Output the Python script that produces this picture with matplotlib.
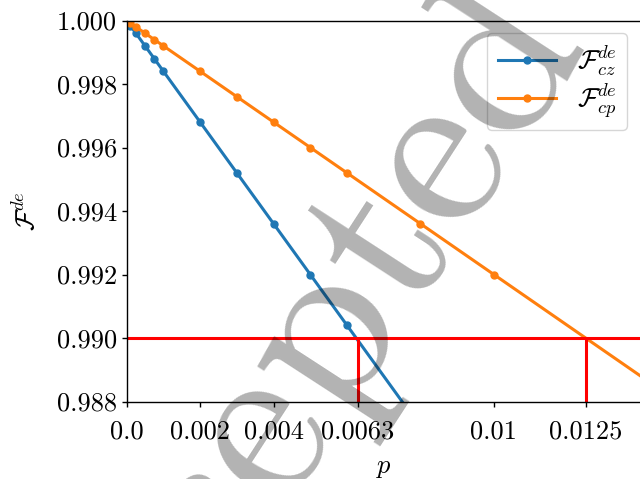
import matplotlib
matplotlib.use("Agg")
import matplotlib.pyplot as plt

plt.rcParams['font.family'] = 'serif'
plt.rcParams['font.serif'] = ['cmr10']
plt.rcParams['mathtext.fontset'] = 'cm'
plt.rcParams['axes.unicode_minus'] = False

# data
p_cz = [0, 0.0001, 0.00025, 0.0005, 0.00075, 0.001, 0.002, 0.003, 0.004, 0.005, 0.006, 0.01]
F_cz = [1.0, 0.99984, 0.9996, 0.9992, 0.9988, 0.9984, 0.9968, 0.9952, 0.9936, 0.992, 0.9904, 0.984]
p_cp = [0, 0.0001, 0.00025, 0.0005, 0.00075, 0.001, 0.002, 0.003, 0.004, 0.005, 0.006, 0.008, 0.01, 0.02]
F_cp = [1.0, 0.99992, 0.9998, 0.9996, 0.9994, 0.9992, 0.9984, 0.9976, 0.9968, 0.996, 0.9952, 0.9936, 0.992, 0.984]
threshold = 0.990
p_thresholds = [0.0063, 0.0125]
xticks = [0.0, 0.002, 0.004, 0.0063, 0.01, 0.0125]
xticklabels = ['0.0', '0.002', '0.004', '0.0063', '0.01', '0.0125']
yticks = [0.988, 0.990, 0.992, 0.994, 0.996, 0.998, 1.000]
yticklabels = ['0.988', '0.990', '0.992', '0.994', '0.996', '0.998', '1.000']

fs = 19
fig = plt.figure(figsize=(6.4, 4.79), dpi=100)
ax = fig.add_axes([126.7/640, 1 - 401.5/479, 514/640, 381/479])

ax.plot(p_cz, F_cz, '-o', color='#1f77b4', lw=2.2, ms=5, label=r'$\mathcal{F}^{de}_{cz}$')
ax.plot(p_cp, F_cp, '-o', color='#ff7f0e', lw=2.2, ms=5, label=r'$\mathcal{F}^{de}_{cp}$')
ax.axhline(threshold, color='red', lw=2.2)
ax.vlines(p_thresholds, 0.988, threshold, color='red', lw=2.2)

ax.set_xlim(0, 0.014)
ax.set_ylim(0.988, 1.000)
ax.set_xticks(xticks)
ax.set_xticklabels(xticklabels, fontsize=fs)
ax.set_yticks(yticks)
ax.set_yticklabels(yticklabels, fontsize=fs)
for s in ax.spines.values():
    s.set_linewidth(1.0)
ax.tick_params(width=1.0)
ax.tick_params(axis='x', pad=10)
ax.set_xlabel(r'$p$', fontsize=fs, labelpad=9)
ax.set_ylabel(r'$\mathcal{F}^{de}$', fontsize=fs, labelpad=12)

ax.legend(loc='upper right', bbox_to_anchor=(0.9734, 0.967), borderaxespad=0,
          fontsize=fs, handlelength=2.2, labelspacing=0.12)

# watermark
fig.text(70.5/640, (479-829.6)/479, 'Accepted', fontsize=169, family='cmr10',
         color='black', alpha=0.3, rotation=57, rotation_mode='anchor',
         ha='left', va='baseline', zorder=10)

fig.savefig('out.png', dpi=100)
